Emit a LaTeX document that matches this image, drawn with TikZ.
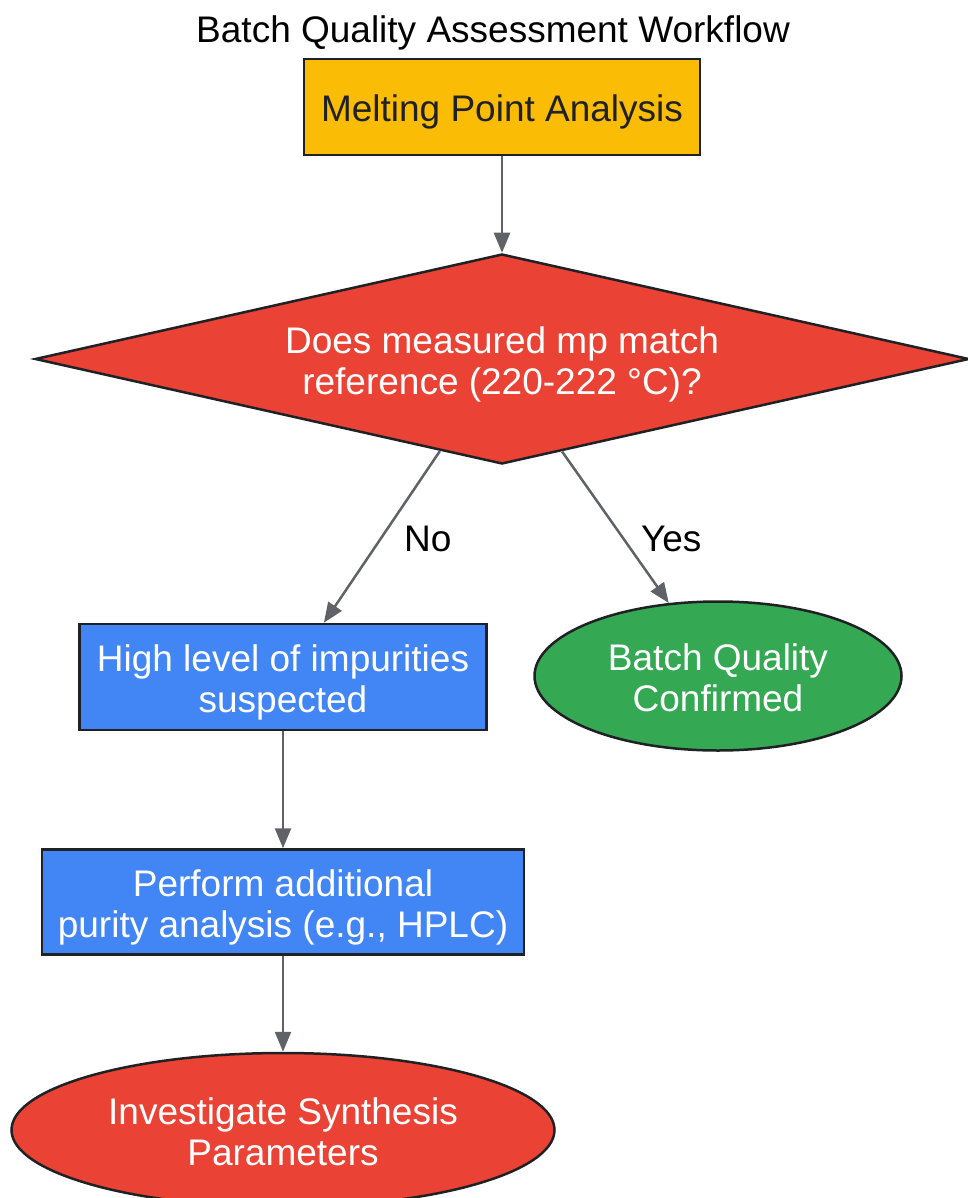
\documentclass[tikz,border=0pt]{standalone}
\usepackage{fontspec}
\setmainfont{Liberation Sans}
\usetikzlibrary{shapes.geometric,arrows.meta}
\definecolor{gyellow}{HTML}{FBBC05}
\definecolor{gred}{HTML}{EA4335}
\definecolor{gblue}{HTML}{4285F4}
\definecolor{ggreen}{HTML}{34A853}
\definecolor{gdark}{HTML}{202124}
\definecolor{ggray}{HTML}{5F6368}
\newcommand{\topstrut}{\rule{0pt}{39pt}}
\newcommand{\botstrut}{\rule[-9pt]{0pt}{9pt}}
\tikzset{
  txt/.style={font=\fontsize{37}{41}\selectfont, align=center, inner sep=0pt},
  stepbox/.style={txt, draw=gdark, line width=2.5pt, rectangle, fill=gblue, text=white},
  endnode/.style={txt, draw=gdark, line width=2.5pt, ellipse, text=white},
  flow/.style={draw=ggray, line width=2.5pt, -{Triangle[length=20pt,width=16pt]}}
}
\begin{document}
\begin{tikzpicture}[x=1pt,y=-1pt]
  \useasboundingbox (0,0) rectangle (967,1198);
  % Nodes
  \node[txt] (Title) at (493,28) {\topstrut Batch Quality Assessment Workflow\botstrut};
  \node[stepbox, fill=gyellow, text=gdark, minimum width=396pt, minimum height=96pt] (Melt) at (502,107) {\topstrut Melting Point Analysis\botstrut};
  \node[txt, draw=gdark, line width=2.5pt, diamond, aspect=4.45, fill=gred, text=white,
        minimum width=934pt, minimum height=210pt] (Match) at (502,359) {\topstrut Does measured mp match\\reference (220-222 °C)?\botstrut};
  \node[stepbox, minimum width=407pt, minimum height=106pt] (Impur) at (283,677) {\topstrut High level of impurities\\suspected\botstrut};
  \node[endnode, fill=ggreen, minimum width=367pt, minimum height=149pt] (Conf) at (718,676) {\topstrut Batch Quality\\Confirmed\botstrut};
  \node[stepbox, minimum width=482pt, minimum height=105pt] (Hplc) at (283,902) {\topstrut Perform additional\\purity analysis (e.g., HPLC)\botstrut};
  \node[endnode, fill=gred, minimum width=543pt, minimum height=154pt] (Synth) at (283,1130) {\topstrut Investigate Synthesis\\Parameters\botstrut};

  % Arrows
  \draw[flow] (Melt) -- (Match);
  \draw[flow] (Match.236) -- node[txt, right=21pt] (No) {\topstrut No\botstrut} (Impur.53.6);
  \draw[flow] (Match.303.5) -- node[txt, pos=0.56, right=18pt] (Yes) {\topstrut Yes\botstrut} (Conf.124);
  \draw[flow] (Impur) -- (Hplc);
  \draw[flow] (Hplc) -- (Synth);
\end{tikzpicture}
\end{document}
